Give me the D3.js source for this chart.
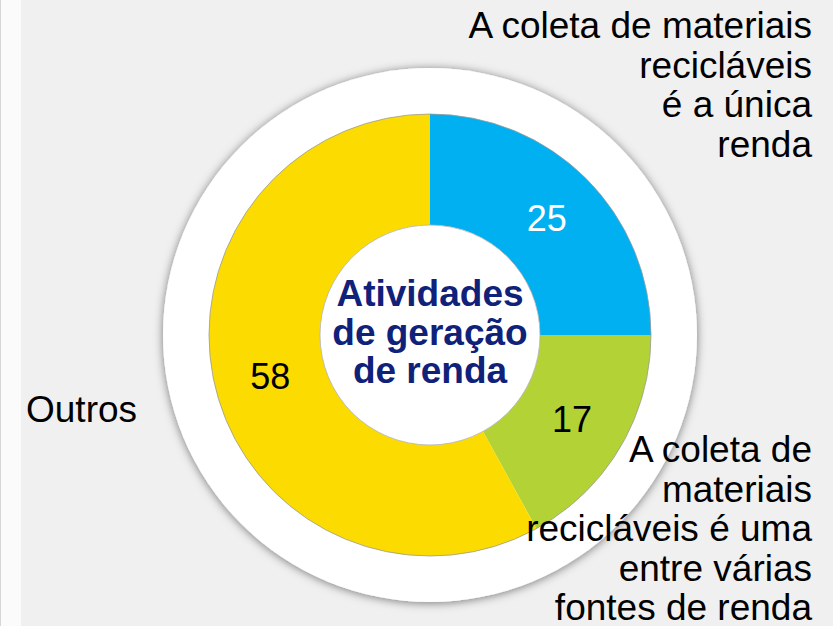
<!DOCTYPE html>
<html>
<head>
<meta charset="utf-8">
<script src="https://cdn.jsdelivr.net/npm/d3@7"></script>
<style>
  body { margin: 0; background: #f0f0f0; }
  svg { display: block; }
</style>
</head>
<body>
<div id="chart"></div>
<script>
// Chart size
var svgWidth = 833;
var svgHeight = 626;

// Data
var categories = ["A coleta de materiais recicláveis é a única renda",
                  "A coleta de materiais recicláveis é uma entre várias fontes de renda",
                  "Outros"];
var values = [25, 17, 58];
var colors = ["#00b0f0", "#b3d235", "#fcdc00"];
var valueColors = ["#ffffff", "#000000", "#000000"];
var labelLines = [
  ["A coleta de materiais", "recicláveis", "é a única", "renda"],
  ["A coleta de", "materiais", "recicláveis é uma", "entre várias", "fontes de renda"],
  ["Outros"]
];
var centerLines = ["Atividades", "de geração", "de renda"];

var cx = 430, cy = 335;
var outerR = 221, innerR = 110, ringR = 267;

var svg = d3.select("#chart")
  .append("svg")
  .attr("width", svgWidth)
  .attr("height", svgHeight);

// shadow for the white ring
var defs = svg.append("defs");
var filter = defs.append("filter")
  .attr("id", "shadow")
  .attr("x", "-20%").attr("y", "-20%")
  .attr("width", "140%").attr("height", "140%");
filter.append("feDropShadow")
  .attr("dx", 0)
  .attr("dy", 1)
  .attr("stdDeviation", 5)
  .attr("flood-color", "#000")
  .attr("flood-opacity", 0.5);

// background
svg.append("rect")
  .attr("width", svgWidth)
  .attr("height", svgHeight)
  .attr("fill", "#f0f0f0");

// left strip
svg.append("rect")
  .attr("x", 0)
  .attr("y", 0)
  .attr("width", 21)
  .attr("height", svgHeight)
  .attr("fill", "#fbfbfb");
svg.append("line")
  .attr("x1", 0.5).attr("x2", 0.5)
  .attr("y1", 0).attr("y2", svgHeight)
  .attr("stroke", "#d6d6d6");

var chartGroup = svg.append("g")
  .attr("transform", `translate(${cx}, ${cy})`);

// white ring
chartGroup.append("circle")
  .attr("r", ringR)
  .attr("fill", "#ffffff")
  .attr("filter", "url(#shadow)");

var pie = d3.pie().sort(null).value(d => d);
var arcs = pie(values);

var arc = d3.arc().innerRadius(innerR).outerRadius(outerR);
var labelArc = d3.arc().innerRadius(165).outerRadius(165);

chartGroup.selectAll("path.slice")
  .data(arcs)
  .enter()
  .append("path")
  .attr("class", "slice")
  .attr("d", arc)
  .attr("fill", (d, i) => colors[i]);

// thin outlines on the donut edges
chartGroup.append("circle")
  .attr("r", outerR)
  .attr("fill", "none")
  .attr("stroke", "#9a9a9a")
  .attr("stroke-width", 0.8);
chartGroup.append("circle")
  .attr("r", innerR)
  .attr("fill", "#ffffff")
  .attr("stroke", "#b0b0b0")
  .attr("stroke-width", 0.8);

// values on the slices
chartGroup.selectAll("text.value")
  .data(arcs)
  .enter()
  .append("text")
  .attr("class", "value")
  .attr("x", d => labelArc.centroid(d)[0])
  .attr("y", d => labelArc.centroid(d)[1])
  .attr("dy", "0.35em")
  .attr("text-anchor", "middle")
  .attr("font-family", "Liberation Sans, Arial, sans-serif")
  .attr("font-size", "36px")
  .attr("fill", (d, i) => valueColors[i])
  .text(d => d.data);

// center title
var center = chartGroup.append("text")
  .attr("text-anchor", "middle")
  .attr("font-family", "Liberation Sans, Arial, sans-serif")
  .attr("font-weight", "bold")
  .attr("font-size", "37px")
  .attr("fill", "#10217a");
center.selectAll("tspan")
  .data(centerLines)
  .enter()
  .append("tspan")
  .attr("x", 0)
  .attr("y", (d, i) => -29 + i * 38.5)
  .text(d => d);

// outer labels
var labelPos = [
  { x: 812, y: 38, anchor: "end" },
  { x: 812, y: 462, anchor: "end" },
  { x: 26, y: 422, anchor: "start" }
];
var labelStep = 39.5;

labelLines.forEach(function(lines, i) {
  var t = svg.append("text")
    .attr("text-anchor", labelPos[i].anchor)
    .attr("font-family", "Liberation Sans, Arial, sans-serif")
    .attr("font-size", "37px")
    .attr("fill", "#000000");
  t.selectAll("tspan")
    .data(lines)
    .enter()
    .append("tspan")
    .attr("x", labelPos[i].x)
    .attr("y", (d, j) => labelPos[i].y + j * labelStep)
    .text(d => d);
});
</script>
</body>
</html>
